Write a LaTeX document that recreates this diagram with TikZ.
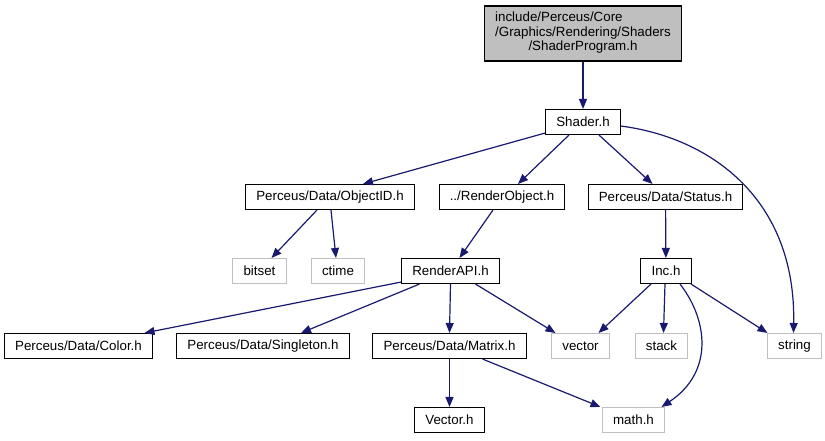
\documentclass[tikz,border=0pt]{standalone}
\usepackage{fontspec}
\setmainfont{Liberation Sans}
\usetikzlibrary{arrows.meta,calc}

\definecolor{edgeblue}{RGB}{25,25,112}
\definecolor{sysgray}{RGB}{191,191,191}

\begin{document}
\begin{tikzpicture}[
    x=0.75pt, y=-0.75pt,
    box/.style={draw=black, line width=0.8pt, fill=white, minimum height=18.75pt, inner xsep=8pt, inner ysep=0pt, font=\fontsize{10}{12}\selectfont},
    sys/.style={box, draw=sysgray},
    root/.style={box, fill=sysgray, minimum height=41.25pt},
    arr/.style={-{Stealth[length=7.5pt, width=6pt, inset=0pt]}, draw=edgeblue, line width=0.9pt}
]
\useasboundingbox (0,0) rectangle (825,440);

\node[root] (prog) at (583,33.5) {\def\arraystretch{0.9}\begin{tabular}{@{}l@{}}include/Perceus/Core\\/Graphics/Rendering/Shaders\\\multicolumn{1}{@{}c@{}}{/ShaderProgram.h}\end{tabular}};
\node[box] (shader) at (583,122) {Shader.h};
\node[box] (objid) at (330,197) {Perceus/Data/ObjectID.h};
\node[box] (renderobj) at (502,197) {../RenderObject.h};
\node[box] (status) at (665.5,197) {Perceus/Data/Status.h};
\node[sys] (bitset) at (259.5,271) {bitset};
\node[sys] (ctime) at (338,271) {ctime};
\node[box] (renderapi) at (450.5,271) {RenderAPI.h};
\node[box] (inc) at (666,271) {Inc.h};
\node[box] (color) at (78.5,346) {Perceus/Data/Color.h};
\node[box] (singleton) at (263,346) {Perceus/Data/Singleton.h};
\node[box] (matrix) at (449.5,346) {Perceus/Data/Matrix.h};
\node[sys] (vector) at (580.5,346) {vector};
\node[sys] (stack) at (661.5,346) {stack};
\node[sys] (string) at (794.5,346) {string};
\node[box] (vectorh) at (449.5,420) {Vector.h};
\node[sys] (math) at (633.5,420) {math.h};

\draw[arr] (prog) -- (shader);
\draw[arr] ($(shader.south west)+(0,-2)$) -- ($(objid.north)+(33,0)$);
\draw[arr] ($(shader.south)+(-14,0)$) -- ($(renderobj.north)+(16,0)$);
\draw[arr] ($(shader.south)+(16,0)$) -- ($(status.north)+(-13,0)$);
\draw[arr] ($(shader.east)+(0,4)$) .. controls (712,138) and (796,200) .. ($(string.north)+(-1,0)$);

\draw[arr] ($(objid.south)+(-13,0)$) -- ($(bitset.north)+(12,0)$);
\draw[arr] ($(objid.south)+(1,0)$) -- ($(ctime.north)+(-2,0)$);
\draw[arr] ($(renderobj.south)+(-9,0)$) -- ($(renderapi.north)+(9,0)$);
\draw[arr] (status) -- (inc);

\draw[arr] ($(renderapi.south west)+(0,-2)$) -- ($(color.north)+(66,0)$);
\draw[arr] ($(renderapi.south)+(-31,0)$) -- ($(singleton.north)+(38,0)$);
\draw[arr] (renderapi.south) -- (matrix.north);
\draw[arr] ($(renderapi.south)+(25,0)$) -- ($(vector.north)+(-25,0)$);

\draw[arr] ($(inc.south)+(-15,0)$) -- ($(vector.north)+(18,0)$);
\draw[arr] ($(inc.south)+(-1,0)$) -- ($(stack.north)+(2,0)$);
\draw[arr] ($(inc.south)+(14,0)$) .. controls (708,320) and (714,372) .. ($(math.north)+(28,0)$);
\draw[arr] ($(inc.south)+(25,0)$) -- ($(string.north)+(-27,0)$);

\draw[arr] (matrix.south) -- (vectorh.north);
\draw[arr] ($(matrix.south)+(33,0)$) -- ($(math.north)+(-33,0)$);
\end{tikzpicture}
\end{document}
